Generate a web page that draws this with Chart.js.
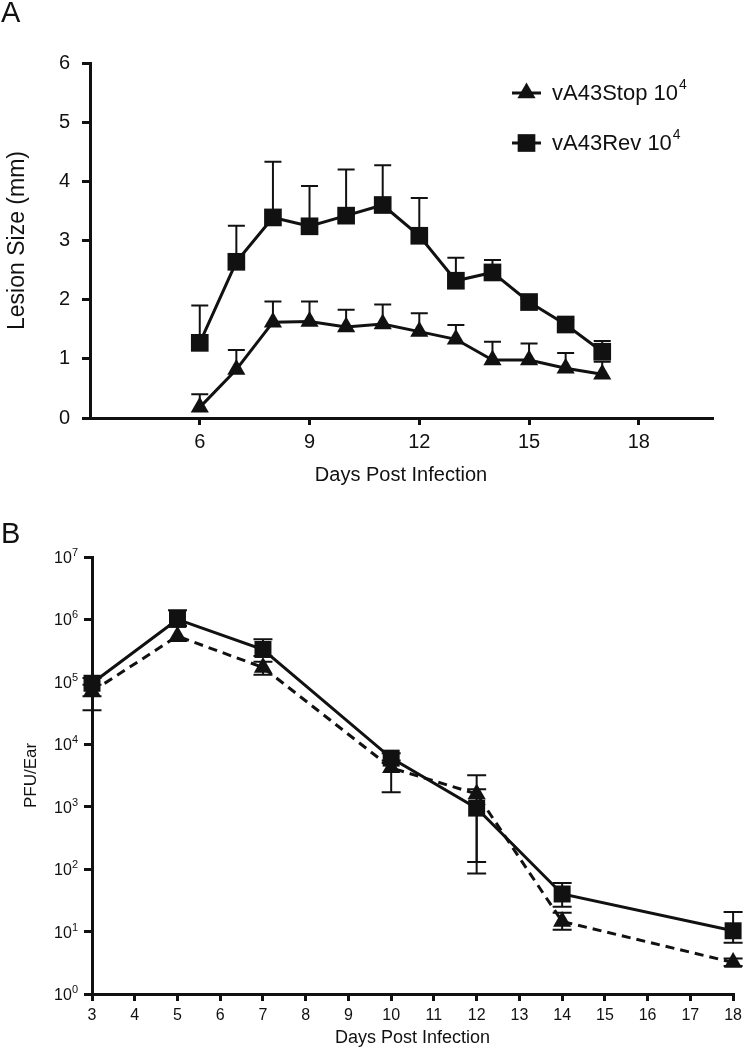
<!DOCTYPE html>
<html>
<head>
<meta charset="utf-8">
<script src="https://cdn.jsdelivr.net/npm/chart.js@4.4.0/dist/chart.umd.min.js"></script>
<style>
  html, body { margin: 0; padding: 0; background: #fff; }
  body { width: 747px; height: 1050px; position: relative; overflow: hidden; font-family: 'Liberation Sans', Arial, sans-serif; }
  .panel { position: absolute; left: 0; width: 747px; }
  #wrapA { top: 0; height: 500px; }
  #wrapB { top: 500px; height: 550px; }
  .tag { position: absolute; font-size: 29px; line-height: 1; color: #111; z-index: 2; }
</style>
</head>
<body>
<div class="panel" id="wrapA"><canvas id="chartA"></canvas></div>
<div class="panel" id="wrapB"><canvas id="chartB"></canvas></div>
<div class="tag" style="left:1px; top:-2px;">A</div>
<div class="tag" style="left:1px; top:519px;">B</div>

<script>
// ---- panel A: lesion size ----
const daysA = [6, 7, 8, 9, 10, 11, 12, 13, 14, 15, 16, 17];
const stopA = [0.18, 0.82, 1.62, 1.63, 1.54, 1.59, 1.46, 1.33, 0.98, 0.98, 0.84, 0.74];
const stopAHi = [0.40, 1.15, 1.97, 1.97, 1.83, 1.92, 1.77, 1.57, 1.29, 1.26, 1.10, 0.95];
const revA = [1.27, 2.64, 3.39, 3.24, 3.42, 3.60, 3.08, 2.32, 2.46, 1.96, 1.58, 1.12];
const revAHi = [1.90, 3.25, 4.33, 3.92, 4.20, 4.27, 3.72, 2.71, 2.67, 2.02, 1.66, 1.30];
const xTicksA = [6, 9, 12, 15, 18];
const yTicksA = [0, 1, 2, 3, 4, 5, 6];

// ---- panel B: virus titre ----
const daysB = [3, 5, 7, 10, 12, 14, 18];
const revB = [9.5e4, 1.0e6, 3.3e5, 6.0e3, 9.5e2, 40, 10.3];
const revBLo = [5.9e4, 8.0e5, 2.6e5, 5.0e3, 85, 25, 6.6];
const revBHi = [1.15e5, 1.4e6, 4.8e5, 7.2e3, 1.9e3, 60, 20.6];
const stopB = [7.0e4, 5.4e5, 1.7e5, 4.2e3, 1.6e3, 14.5, 3.2];
const stopBLo = [3.5e4, 4.5e5, 1.3e5, 1.7e3, 130, 10.7, 2.8];
const stopBHi = [9.0e4, 7.8e5, 2.1e5, 5.5e3, 3.2e3, 20, 3.7];
const yExpB = [0, 1, 2, 3, 4, 5, 6, 7];

const seriesNames = ['vA43Stop 10', 'vA43Rev 10'];
const INK = '#111';
const FONT = "'Liberation Sans', Arial, sans-serif";
Chart.defaults.font.family = FONT;
Chart.defaults.color = INK;

const toPts = (xs, ys) => xs.map((x, i) => ({ x: x, y: ys[i] }));

// panel B error bars: stem from lo to hi with a cap at each end
function drawErr(chart, xs, lo, hi, capW) {
  const { ctx, scales: { x, y } } = chart;
  ctx.save();
  ctx.strokeStyle = INK;
  ctx.lineWidth = 2;
  xs.forEach((d, i) => {
    const px = x.getPixelForValue(d);
    const top = y.getPixelForValue(hi[i]);
    const bot = y.getPixelForValue(lo[i]);
    ctx.beginPath();
    ctx.moveTo(px, top);
    ctx.lineTo(px, bot);
    ctx.moveTo(px - capW / 2, top);
    ctx.lineTo(px + capW / 2, top);
    ctx.moveTo(px - capW / 2, bot);
    ctx.lineTo(px + capW / 2, bot);
    ctx.stroke();
  });
  ctx.restore();
}

// panel A error bars: upper only
function drawStems(chart, xs, vals, hi, capW) {
  const { ctx, scales: { x, y } } = chart;
  ctx.save();
  ctx.strokeStyle = INK;
  ctx.lineWidth = 2;
  xs.forEach((d, i) => {
    const px = x.getPixelForValue(d);
    const top = y.getPixelForValue(hi[i]);
    const base = y.getPixelForValue(vals[i]);
    ctx.beginPath();
    ctx.moveTo(px, base);
    ctx.lineTo(px, top);
    ctx.moveTo(px - capW / 2, top);
    ctx.lineTo(px + capW / 2, top);
    ctx.stroke();
  });
  ctx.restore();
}

const errA = {
  id: 'errA',
  beforeDatasetsDraw(chart) {
    drawStems(chart, daysA, stopA, stopAHi, 17);
    drawStems(chart, daysA, revA, revAHi, 17);
  }
};

const legendA = {
  id: 'legendA',
  afterDraw(chart) {
    const ctx = chart.ctx;
    const rows = [{ y: 93, style: 'triangle', r: 10.5 }, { y: 143, style: 'rect', r: 12.5 }];
    ctx.save();
    rows.forEach((row, i) => {
      ctx.strokeStyle = INK;
      ctx.fillStyle = INK;
      ctx.lineWidth = 3;
      ctx.beginPath();
      ctx.moveTo(512, row.y);
      ctx.lineTo(541, row.y);
      ctx.stroke();
      Chart.helpers.drawPoint(ctx, { pointStyle: row.style, radius: row.r, borderWidth: 0 }, 526.5, row.y);
      ctx.font = '22px ' + FONT;
      ctx.textBaseline = 'middle';
      ctx.textAlign = 'left';
      ctx.fillText(seriesNames[i], 552, row.y + 1);
      const w = ctx.measureText(seriesNames[i]).width;
      ctx.font = '14px ' + FONT;
      ctx.fillText('4', 552 + w + 1, row.y - 8);
    });
    ctx.restore();
  }
};

new Chart(document.getElementById('chartA'), {
  type: 'line',
  data: {
    datasets: [
      { label: 'vA43Stop', data: toPts(daysA, stopA), borderColor: INK, backgroundColor: INK,
        borderWidth: 3, pointStyle: 'triangle', pointRadius: 10.5, pointBorderWidth: 0, tension: 0, clip: false },
      { label: 'vA43Rev', data: toPts(daysA, revA), borderColor: INK, backgroundColor: INK,
        borderWidth: 3, pointStyle: 'rect', pointRadius: 12.5, pointBorderWidth: 0, tension: 0, clip: false }
    ]
  },
  options: {
    responsive: true, maintainAspectRatio: false, animation: false,
    layout: { padding: { left: 0, right: 35, top: 63, bottom: 9 } },
    plugins: { legend: { display: false }, tooltip: { enabled: false } },
    scales: {
      x: {
        type: 'linear', min: 3, max: 20,
        afterBuildTicks: s => { s.ticks = xTicksA.map(v => ({ value: v })); },
        afterFit: s => { s.height = 73; },
        grid: { drawOnChartArea: false, drawTicks: true, tickLength: 7, lineWidth: 3, color: INK },
        border: { display: true, width: 3, color: INK },
        ticks: { color: INK, font: { size: 20 }, padding: 5, maxRotation: 0 },
        title: { display: true, text: 'Days Post Infection', color: INK, font: { size: 20 }, padding: { top: 0, bottom: 4 } }
      },
      y: {
        type: 'linear', min: 0, max: 6,
        afterBuildTicks: s => { s.ticks = yTicksA.map(v => ({ value: v })); },
        afterFit: s => { s.width = 90; },
        grid: { drawOnChartArea: false, drawTicks: true, tickLength: 8, lineWidth: 3, color: INK },
        border: { display: true, width: 3, color: INK },
        ticks: { color: INK, font: { size: 20 }, padding: 12 },
        title: { display: true, text: 'Lesion Size (mm)', color: INK, font: { size: 23 }, padding: { top: 4, bottom: 0 } }
      }
    }
  },
  plugins: [errA, legendA]
});

const errB = {
  id: 'errB',
  beforeDatasetsDraw(chart) {
    drawErr(chart, daysB, stopBLo, stopBHi, 19);
    drawErr(chart, daysB, revBLo, revBHi, 19);
  }
};

// log axis labels as 10 with a raised exponent
const yLabelsB = {
  id: 'yLabelsB',
  afterDraw(chart) {
    const { ctx, scales: { y } } = chart;
    ctx.save();
    ctx.fillStyle = INK;
    ctx.textBaseline = 'alphabetic';
    ctx.textAlign = 'right';
    yExpB.forEach(e => {
      const py = y.getPixelForValue(Math.pow(10, e));
      const right = 78;
      ctx.font = '11px ' + FONT;
      const sw = ctx.measureText(String(e)).width;
      ctx.fillText(String(e), right, py - 1);
      ctx.font = '16px ' + FONT;
      ctx.fillText('10', right - sw, py + 6);
    });
    ctx.restore();
  }
};

new Chart(document.getElementById('chartB'), {
  type: 'line',
  data: {
    datasets: [
      { label: 'vA43Stop', data: toPts(daysB, stopB), borderColor: INK, backgroundColor: INK,
        borderWidth: 3, borderDash: [9, 6], pointStyle: 'triangle', pointRadius: 10.5, pointBorderWidth: 0, tension: 0, clip: false },
      { label: 'vA43Rev', data: toPts(daysB, revB), borderColor: INK, backgroundColor: INK,
        borderWidth: 3, pointStyle: 'rect', pointRadius: 12, pointBorderWidth: 0, tension: 0, clip: false }
    ]
  },
  options: {
    responsive: true, maintainAspectRatio: false, animation: false,
    layout: { padding: { left: 0, right: 9, top: 57, bottom: 0 } },
    plugins: { legend: { display: false }, tooltip: { enabled: false } },
    scales: {
      x: {
        type: 'linear', min: 3, max: 18,
        ticks: { stepSize: 1, color: INK, font: { size: 16 }, padding: 5, maxRotation: 0, autoSkip: false },
        afterFit: s => { s.height = 56; },
        grid: { drawOnChartArea: false, drawTicks: true, tickLength: 7, lineWidth: 3, color: INK },
        border: { display: true, width: 3, color: INK },
        title: { display: true, text: 'Days Post Infection', color: INK, font: { size: 18 }, padding: { top: 0, bottom: 1 } }
      },
      y: {
        type: 'logarithmic', min: 1, max: 1e7,
        afterBuildTicks: s => { s.ticks = yExpB.map(e => ({ value: Math.pow(10, e) })); },
        afterFit: s => { s.width = 92; },
        grid: { drawOnChartArea: false, drawTicks: true, tickLength: 8, lineWidth: 3, color: INK },
        border: { display: true, width: 3, color: INK },
        ticks: { callback: () => '', padding: 0 },
        title: { display: true, text: 'PFU/Ear', color: INK, font: { size: 17 }, padding: { top: 21, bottom: 0 } }
      }
    }
  },
  plugins: [errB, yLabelsB]
});
</script>
</body>
</html>
